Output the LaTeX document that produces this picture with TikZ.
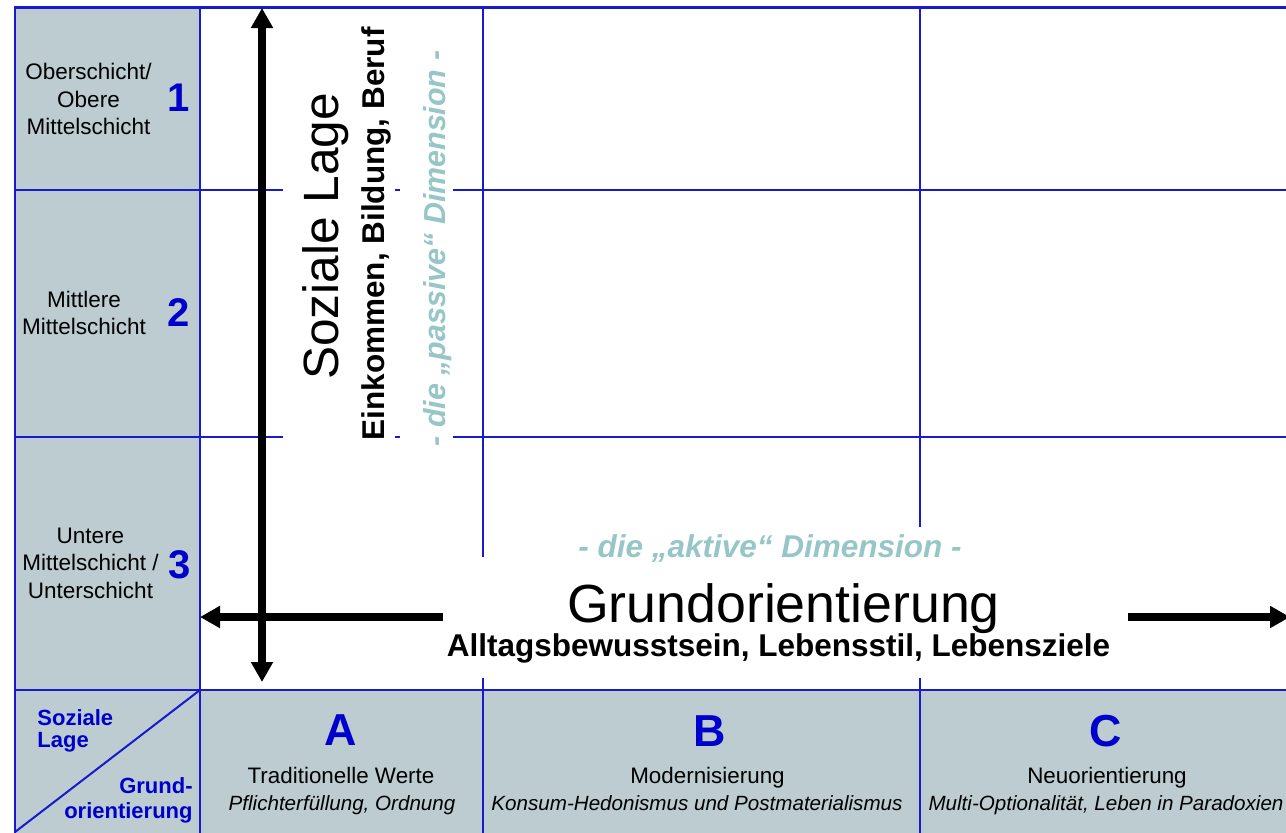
\documentclass[tikz,border=0pt]{standalone}
\usepackage{fontspec}
\setmainfont{Liberation Sans}
\usetikzlibrary{arrows.meta}
\definecolor{gridblue}{RGB}{25,25,205}
\definecolor{cellgray}{RGB}{188,204,208}
\definecolor{numblue}{RGB}{0,0,204}
\definecolor{dimteal}{RGB}{150,198,200}
\newcommand\fsz[2]{\fontsize{#1}{#2}\selectfont}
\begin{document}
\begin{tikzpicture}[x=0.5pt,y=-0.5pt,
  gridline/.style={draw=gridblue,line width=1pt},
  wbox/.style={fill=white,draw=none,inner sep=0pt},
  lbl/.style={inner sep=0pt,align=center,font=\fsz{11.25pt}{13.75pt}},
  num/.style={inner sep=0pt,text=numblue,font=\fsz{20pt}{24pt}\bfseries},
  letter/.style={inner sep=0pt,anchor=base,text=numblue,font=\fsz{22.4pt}{26pt}\bfseries},
  coltitle/.style={inner sep=0pt,anchor=base,font=\fsz{11.2pt}{13pt}},
  colsub/.style={inner sep=0pt,anchor=base,font=\fsz{10.3pt}{12pt}\itshape},
  corner/.style={inner sep=0pt,text=numblue,font=\fsz{11pt}{12pt}\bfseries},
  midbold/.style={inner sep=0pt,anchor=base,font=\fsz{15.75pt}{18pt}\bfseries},
  dimtext/.style={inner sep=0pt,anchor=base,text=dimteal,font=\fsz{15.75pt}{18pt}\bfseries\itshape},
  bigarrow/.style={line width=4pt,draw=black},
  tipstyle/.tip={Triangle[length=10pt,width=10.5pt]}
]
\useasboundingbox (0,0) rectangle (1286,832);
% grey cells
\fill[cellgray] (15,7) rectangle (200,840);
\fill[cellgray] (15,690) rectangle (1295,840);
% grid
\draw[gridline,line width=1.5pt] (14,7) -- (1295,7);
\draw[gridline,line width=1.3pt] (15,7) -- (15,840);
\foreach \y in {190,437,690} \draw[gridline] (15,\y) -- (1295,\y);
\foreach \x in {200,483,920} \draw[gridline] (\x,7) -- (\x,840);
\draw[gridline] (15,832) -- (200,690);
% white masks behind texts
\node[wbox,minimum width=56pt,minimum height=213pt] (vbox) at (339,235) {};
\node[wbox,minimum width=26.5pt,minimum height=207.5pt] (pbox) at (426.5,247.5) {};
\node[wbox,minimum width=205pt,minimum height=16.5pt] (abox) at (770,543.5) {};
\node[wbox,minimum width=342.5pt,minimum height=60.5pt] (gbox) at (785.5,617) {};
% left labels
\node[lbl] (r1) at (88.5,99) {Oberschicht/\\Obere\\Mittelschicht};
\node[lbl] (r2) at (84,313) {Mittlere\\Mittelschicht};
\node[lbl] (r3) at (90.5,563) {Untere\\Mittelschicht /\\Unterschicht};
\node[num] (n1) at (179,98) {1};
\node[num] (n2) at (179,313) {2};
\node[num] (n3) at (180,565) {3};
% vertical texts
\node[rotate=90,anchor=base,inner sep=0pt,font=\fsz{24.8pt}{30pt}] (sl) at (338.5,236.5) {Soziale Lage};
\node[rotate=90,midbold] (ek) at (384.5,234) {Einkommen, Bildung, Beruf};
\node[rotate=90,dimtext,font=\fsz{15.2pt}{18pt}\bfseries\itshape] (pd) at (445,248.5) {- die „passive“ Dimension -};
% horizontal texts
\node[dimtext] (ad) at (770,557) {- die „aktive“ Dimension -};
\node[inner sep=0pt,anchor=base,font=\fsz{26.85pt}{32pt}] (go) at (783.5,622) {Grundorientierung};
\node[midbold] (al) at (778.5,656) {Alltagsbewusstsein, Lebensstil, Lebensziele};
% bottom row
\node[letter] (la) at (341,745) {A};
\node[letter] (lb) at (710,746) {B};
\node[letter] (lc) at (1106,746) {C};
\node[coltitle] (ta) at (341,783) {Traditionelle Werte};
\node[coltitle] (tb) at (707.5,783) {Modernisierung};
\node[coltitle] (tc) at (1107,783) {Neuorientierung};
\node[colsub] (sa) at (342,810) {Pflichterfüllung, Ordnung};
\node[colsub] (sb) at (697,810) {Konsum-Hedonismus und Postmaterialismus};
\node[colsub] (sc) at (1106,810) {Multi-Optionalität, Leben in Paradoxien};
% corner cell
\node[corner,anchor=base west] (c1) at (37,725) {Soziale};
\node[corner,anchor=base west] (c2) at (37,747) {Lage};
\node[corner,anchor=base east] (c3) at (193,793) {Grund-};
\node[corner,anchor=base east] (c4) at (193,818) {orientierung};
% arrows
\coordinate (vt) at (262,8);
\coordinate (vb) at (262,682);
\coordinate (lt) at (200,617);
\coordinate (rt) at (1290,617);
\draw[bigarrow,{tipstyle}-{tipstyle}] (vb) -- (vt);
\draw[bigarrow,-{tipstyle}] (gbox.west) -- (lt);
\draw[bigarrow,-{tipstyle}] (gbox.east) -- (rt);
\end{tikzpicture}
\end{document}
